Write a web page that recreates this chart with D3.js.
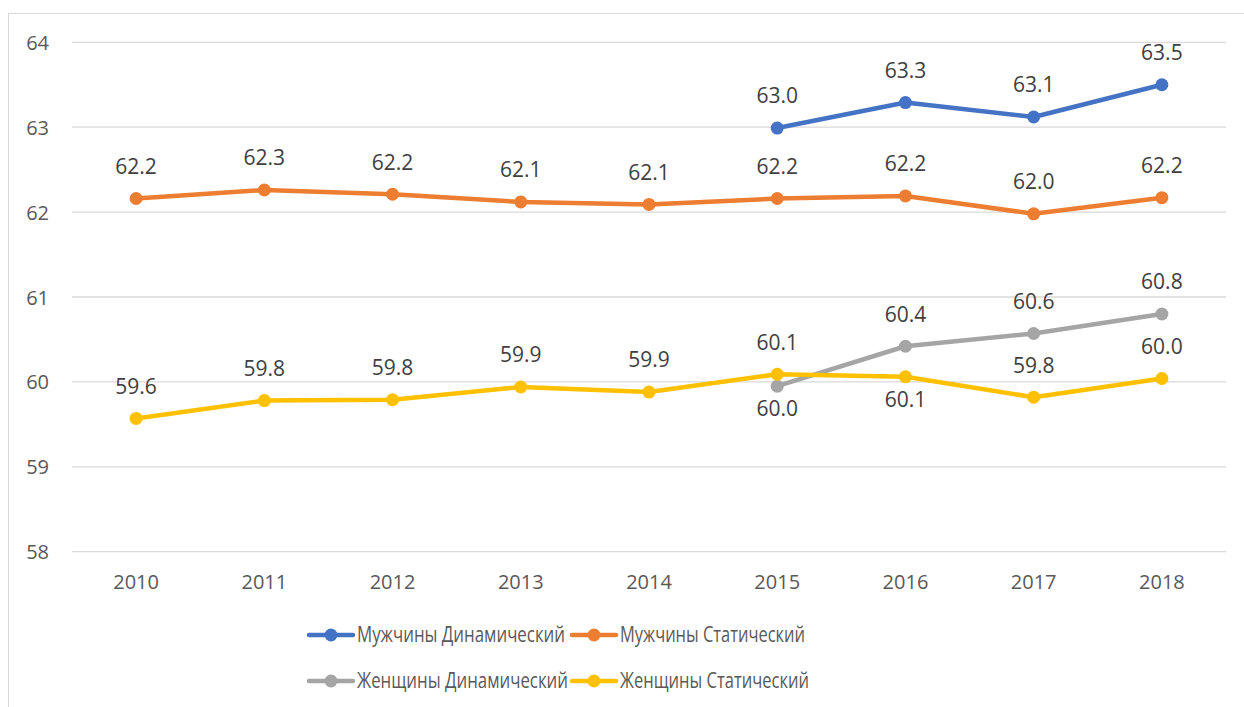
<!DOCTYPE html>
<html>
<head>
<meta charset="utf-8">
<script src="https://cdn.jsdelivr.net/npm/d3@7"></script>
<style>
  html, body { margin: 0; padding: 0; background: #fff; }
  svg text { font-family: "Open Sans", "Noto Sans", sans-serif; }
</style>
</head>
<body>
<svg id="chart" width="1244" height="707"></svg>
<script>
const years = ["2010","2011","2012","2013","2014","2015","2016","2017","2018"];
const yTicks = [58, 59, 60, 61, 62, 63, 64];
const seriesNames = ["Мужчины Динамический", "Мужчины Статический", "Женщины Динамический", "Женщины Статический"];
const menDynamic   = [null, null, null, null, null, 62.99, 63.29, 63.12, 63.50];
const menStatic    = [62.16, 62.26, 62.21, 62.12, 62.09, 62.16, 62.19, 61.98, 62.17];
const womenDynamic = [null, null, null, null, null, 59.95, 60.42, 60.57, 60.80];
const womenStatic  = [59.57, 59.78, 59.79, 59.94, 59.88, 60.09, 60.06, 59.82, 60.04];
// label placement: a = above, b = below
const labelPos = [
  ["a","a","a","a","a","a","a","a","a"],
  ["a","a","a","a","a","a","a","a","a"],
  ["a","a","a","a","a","b","a","a","a"],
  ["a","a","a","a","a","a","b","a","a"]
];
const colors = ["#4472C4", "#ED7D31", "#A5A5A5", "#FFC000"];

const svg = d3.select("#chart");
const W = 1244, H = 707;

// outer chart border
svg.append("path")
  .attr("d", `M8.5,${H} V13.5 H${W}`)
  .attr("fill", "none").attr("stroke", "#D9D9D9").attr("stroke-width", 1);

const plot = { left: 72, right: 1226, top: 42.3, bottom: 551.7 };
const x = d3.scaleBand().domain(years).range([plot.left, plot.right]);
const y = d3.scaleLinear().domain([58, 64]).range([plot.bottom, plot.top]);

// gridlines
svg.append("g").selectAll("line").data(yTicks).join("line")
  .attr("x1", plot.left).attr("x2", plot.right)
  .attr("y1", d => y(d)).attr("y2", d => y(d))
  .attr("stroke", "#D9D9D9").attr("stroke-width", 1.3);

// y axis labels
const yAxis = d3.axisLeft(y).tickValues(yTicks).tickSize(0).tickPadding(0).tickFormat(d3.format("d"));
const gy = svg.append("g").attr("transform", "translate(49,0)").call(yAxis);
gy.select(".domain").remove();
gy.selectAll("text").attr("fill", "#595959").style("font-size", "20px").attr("dy", "0.35em");

// x axis labels
const xAxis = d3.axisBottom(x).tickSize(0).tickPadding(0);
const gx = svg.append("g").attr("transform", "translate(0,582)").call(xAxis);
gx.select(".domain").remove();
gx.selectAll("text").attr("fill", "#595959").style("font-size", "20px").attr("dy", "0.35em");

const allSeries = [menDynamic, menStatic, womenDynamic, womenStatic];
const cx = i => x(years[i]) + x.bandwidth() / 2;

const line = d3.line()
  .defined(d => d.v != null)
  .x(d => cx(d.i)).y(d => y(d.v));

allSeries.forEach((vals, s) => {
  const pts = vals.map((v, i) => ({ v, i }));
  const g = svg.append("g");
  g.append("path").datum(pts)
    .attr("d", line).attr("fill", "none")
    .attr("stroke", colors[s]).attr("stroke-width", 4.5)
    .attr("stroke-linejoin", "round").attr("stroke-linecap", "round");
  const def = pts.filter(d => d.v != null);
  g.selectAll("circle").data(def).join("circle")
    .attr("cx", d => cx(d.i)).attr("cy", d => y(d.v)).attr("r", 6.5)
    .attr("fill", colors[s]);
});

// data labels
allSeries.forEach((vals, s) => {
  const pts = vals.map((v, i) => ({ v, i })).filter(d => d.v != null);
  svg.append("g").selectAll("text").data(pts).join("text")
    .attr("x", d => cx(d.i))
    .attr("y", d => y(d.v) + (labelPos[s][d.i] === "b" ? 23 : -32))
    .attr("dy", "0.35em")
    .attr("text-anchor", "middle")
    .attr("fill", "#404040")
    .style("font-size", "21px")
    .text(d => d3.format(".1f")(d.v));
});

// legend
const legendItems = [
  { name: seriesNames[0], c: colors[0], lx: 309, ty: 635, tw: 208 },
  { name: seriesNames[1], c: colors[1], lx: 572, ty: 635, tw: 185 },
  { name: seriesNames[2], c: colors[2], lx: 309, ty: 681, tw: 211 },
  { name: seriesNames[3], c: colors[3], lx: 572, ty: 681, tw: 189 }
];
const lg = svg.append("g").selectAll("g").data(legendItems).join("g")
  .attr("transform", d => `translate(${d.lx},${d.ty})`);
lg.append("line").attr("x1", 0).attr("x2", 44).attr("y1", 0).attr("y2", 0)
  .attr("stroke", d => d.c).attr("stroke-width", 4.5).attr("stroke-linecap", "round");
lg.append("circle").attr("cx", 22).attr("cy", 0).attr("r", 6.5).attr("fill", d => d.c);
lg.append("text").attr("x", 48).attr("y", 0).attr("dy", "0.35em")
  .attr("fill", "#595959").style("font-size", "21px")
  .attr("textLength", d => d.tw).attr("lengthAdjust", "spacingAndGlyphs")
  .text(d => d.name);
</script>
</body>
</html>
